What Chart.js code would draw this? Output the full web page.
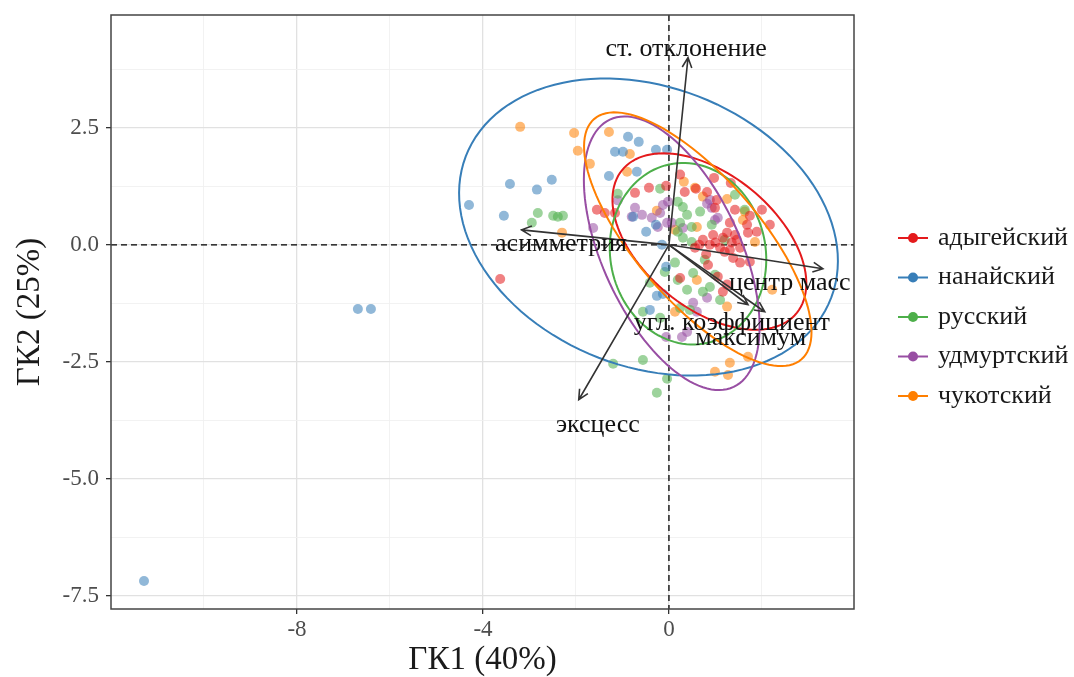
<!DOCTYPE html>
<html>
<head>
<meta charset="utf-8">
<script src="https://cdn.jsdelivr.net/npm/chart.js@4.4.1/dist/chart.umd.min.js"></script>
<style>
html, body { margin: 0; padding: 0; background: #fff; }
#wrap { width: 1074px; height: 677px; }
</style>
</head>
<body>
<div id="wrap"><canvas id="pcaCtx"></canvas></div>
<script>
// groups and colours (Set1)
const groups = ['адыгейский', 'нанайский', 'русский', 'удмуртский', 'чукотский'];
const groupColors = ['#E41A1C', '#377EB8', '#4DAF4A', '#984EA3', '#FF7F00'];

// individual scores, ГК1 / ГК2
const adygeiX = [-3.63, -1.55, -1.38, -1.16, -0.73, -0.43, -0.06, 0.24, 0.34, 0.58, 0.82, 0.97, 1.33, 1.03, 1.42, 1.74, 1.31, 1.68, 1.70, 1.42, 1.25, 0.99, 0.95, 1.46, 0.73, 0.88, 1.10, 1.31, 1.53, 0.56, 0.24, 0.84, 1.05, 1.25, 1.16, 1.53, 1.74, 1.38, 1.16, 1.89, 2.00, 2.17, 1.00, 1.20, 0.65, 1.35, 0.80];
const adygeiY = [-0.73, 0.75, 0.68, 0.68, 1.11, 1.22, 1.26, 1.50, 1.13, 1.20, 1.13, 1.43, 1.32, 0.96, 0.75, 0.62, 0.47, 0.43, 0.26, 0.21, 0.26, 0.79, 0.21, 0.11, 0.11, 0.00, -0.06, -0.11, -0.06, -0.06, -0.71, -0.43, -0.68, -0.85, -1.00, -0.38, -0.36, -0.28, 0.15, 0.28, 0.75, 0.43, 0.05, -0.15, 0.00, 0.05, -0.20];

const nanaiX = [-11.29, -6.69, -6.41, -4.30, -3.55, -3.42, -2.84, -2.52, -0.88, -0.65, -1.16, -0.99, -0.28, -0.04, -1.29, -0.69, -0.49, -0.77, -0.28, -0.15, -0.06, -0.26, -0.13, -0.41];
const nanaiY = [-7.18, -1.37, -1.37, 0.85, 0.62, 1.30, 1.18, 1.39, 2.31, 2.20, 1.99, 1.99, 2.03, 2.03, 1.47, 1.56, 0.28, 0.60, 0.43, 0.00, -0.47, -1.09, -1.05, -1.39];

const russianX = [-2.82, -2.95, -2.49, -2.39, -2.28, -1.10, -0.19, 0.19, 0.30, 0.39, 0.24, 0.49, 0.19, 0.13, -0.09, 0.39, 0.19, -0.41, -0.56, 0.24, 0.45, -0.56, -1.20, -0.04, -0.26, 0.49, 0.30, 0.73, 0.88, 0.52, 0.99, 0.67, 0.92, 1.20, 0.77, 1.10, -0.19, 1.63, 1.42];
const russianY = [0.68, 0.47, 0.62, 0.60, 0.62, 1.09, 1.20, 0.92, 0.81, 0.64, 0.47, 0.38, 0.28, -0.38, -0.58, -0.96, -0.75, -0.81, -1.43, -1.35, -1.39, -2.46, -2.54, -2.86, -3.16, 0.06, 0.15, -1.00, -0.90, -0.60, -0.64, 0.71, 0.43, 0.11, -0.32, -1.18, -1.56, 0.75, 1.07];

const udmurtX = [-0.73, -0.58, -0.80, -0.37, -0.13, -0.02, -0.19, -0.04, -0.24, 0.06, -1.63, 0.82, 0.92, 1.05, 0.88, 0.99, 0.30, -0.06, 0.28, 0.39, 0.82, 0.60, 0.52, -1.10];
const udmurtY = [0.79, 0.64, 0.60, 0.58, 0.85, 0.92, 0.68, 0.47, 0.38, 0.47, 0.36, 0.88, 0.79, 0.58, 0.96, 0.53, 0.36, -1.97, -1.97, -1.86, -1.13, -1.43, -1.24, 0.95];

const chukchiX = [-3.20, -2.04, -1.29, -1.96, -1.70, -0.84, -0.90, 0.32, 0.56, 1.25, 0.73, -0.26, 0.60, 0.13, 1.63, 1.59, 1.85, -2.30, 2.22, 1.25, 1.70, 0.99, 1.27, 1.31, 0.13, 0.60];
const chukchiY = [2.52, 2.39, 2.41, 2.01, 1.73, 1.94, 1.56, 1.35, 1.22, 0.98, 1.03, 0.73, 0.38, 0.32, 0.71, 0.53, 0.06, 0.26, -0.96, -1.32, -2.39, -2.71, -2.78, -2.52, -1.43, -0.75];

const groupX = [adygeiX, nanaiX, russianX, udmurtX, chukchiX];
const groupY = [adygeiY, nanaiY, russianY, udmurtY, chukchiY];

// confidence ellipses: centre x, centre y, semi-major, semi-minor, angle (deg)
const ellipseCX = [0.87, -0.44, 0.41, 0.06, 0.62];
const ellipseCY = [0.07, 0.38, -0.19, -0.18, 0.12];
const ellipseA = [2.42, 4.21, 1.95, 3.15, 3.40];
const ellipseB = [1.43, 2.99, 1.67, 1.48, 1.33];
const ellipseAngle = [-39, -21, -78, -65, -49];

// variable loadings (arrows) and where their labels sit
const varNames = ['ст. отклонение', 'асимметрия', 'центр масс', 'угл. коэффициент', 'максимум', 'эксцесс'];
const varX = [0.41, -3.17, 3.31, 1.70, 2.06, -1.94];
const varY = [4.00, 0.32, -0.51, -1.28, -1.43, -3.31];
const varLabelX = [0.37, -2.32, 2.60, 1.35, 1.76, -1.53];
const varLabelY = [4.17, 0.02, -0.81, -1.67, -1.99, -3.85];

// axis ticks (major + minor grid)
const xTicks = [-10, -8, -6, -4, -2, 0, 2];
const xLabelled = [-8, -4, 0];
const yTicks = [-7.5, -6.25, -5, -3.75, -2.5, -1.25, 0, 1.25, 2.5, 3.75];
const yLabelled = [-7.5, -5, -2.5, 0, 2.5];

const serif = "'Liberation Serif', 'Times New Roman', serif";

function hexToRgba(hex, a) {
    const n = parseInt(hex.slice(1), 16);
    return 'rgba(' + (n >> 16) + ',' + ((n >> 8) & 255) + ',' + (n & 255) + ',' + a + ')';
}

const biplotPlugin = {
    id: 'biplot',
    beforeDatasetsDraw(chart) {
        const { ctx, chartArea: area, scales: { x, y } } = chart;
        ctx.save();
        ctx.strokeStyle = '#000';
        ctx.lineWidth = 1.3;
        ctx.setLineDash([6, 4]);
        ctx.beginPath();
        ctx.moveTo(area.left, y.getPixelForValue(0));
        ctx.lineTo(area.right, y.getPixelForValue(0));
        ctx.moveTo(x.getPixelForValue(0), area.top);
        ctx.lineTo(x.getPixelForValue(0), area.bottom);
        ctx.stroke();
        ctx.restore();
    },
    afterDatasetsDraw(chart) {
        const { ctx, chartArea: area, scales: { x, y } } = chart;
        ctx.save();
        ctx.beginPath();
        ctx.rect(area.left, area.top, area.right - area.left, area.bottom - area.top);
        ctx.clip();

        // ellipses
        ctx.lineWidth = 2;
        groups.forEach((g, i) => {
            const th = ellipseAngle[i] * Math.PI / 180;
            ctx.strokeStyle = groupColors[i];
            ctx.beginPath();
            for (let k = 0; k <= 120; k++) {
                const t = k / 120 * 2 * Math.PI;
                const ex = ellipseCX[i] + ellipseA[i] * Math.cos(t) * Math.cos(th) - ellipseB[i] * Math.sin(t) * Math.sin(th);
                const ey = ellipseCY[i] + ellipseA[i] * Math.cos(t) * Math.sin(th) + ellipseB[i] * Math.sin(t) * Math.cos(th);
                const px = x.getPixelForValue(ex), py = y.getPixelForValue(ey);
                if (k === 0) ctx.moveTo(px, py); else ctx.lineTo(px, py);
            }
            ctx.stroke();
        });

        // arrows
        const ox = x.getPixelForValue(0), oy = y.getPixelForValue(0);
        ctx.strokeStyle = '#333';
        ctx.lineWidth = 1.6;
        varNames.forEach((v, i) => {
            const ex = x.getPixelForValue(varX[i]), ey = y.getPixelForValue(varY[i]);
            const ang = Math.atan2(ey - oy, ex - ox);
            ctx.beginPath();
            ctx.moveTo(ox, oy);
            ctx.lineTo(ex, ey);
            ctx.moveTo(ex - 11 * Math.cos(ang - 0.45), ey - 11 * Math.sin(ang - 0.45));
            ctx.lineTo(ex, ey);
            ctx.lineTo(ex - 11 * Math.cos(ang + 0.45), ey - 11 * Math.sin(ang + 0.45));
            ctx.stroke();
        });

        // arrow labels
        ctx.fillStyle = '#111';
        ctx.font = '26px ' + serif;
        ctx.textAlign = 'center';
        ctx.textBaseline = 'middle';
        varNames.forEach((v, i) => {
            ctx.fillText(v, x.getPixelForValue(varLabelX[i]), y.getPixelForValue(varLabelY[i]));
        });
        ctx.restore();

        // panel border
        ctx.save();
        ctx.strokeStyle = '#444';
        ctx.lineWidth = 1.5;
        ctx.strokeRect(area.left, area.top, area.right - area.left, area.bottom - area.top);
        ctx.restore();
    },
    afterDraw(chart) {
        // legend
        const { ctx } = chart;
        ctx.save();
        ctx.font = '26px ' + serif;
        ctx.textBaseline = 'middle';
        ctx.textAlign = 'left';
        groups.forEach((g, i) => {
            const cy = 238 + i * 39.5;
            ctx.strokeStyle = groupColors[i];
            ctx.lineWidth = 2;
            ctx.beginPath();
            ctx.moveTo(898, cy);
            ctx.lineTo(928, cy);
            ctx.stroke();
            ctx.fillStyle = groupColors[i];
            ctx.beginPath();
            ctx.arc(913, cy, 5, 0, 2 * Math.PI);
            ctx.fill();
            ctx.fillStyle = '#1a1a1a';
            ctx.fillText(g, 938, cy);
        });
        ctx.restore();
    }
};

function buildDatasets() {
    return groups.map((g, i) => ({
        label: g,
        data: groupX[i].map((v, k) => ({ x: v, y: groupY[i][k] })),
        backgroundColor: hexToRgba(groupColors[i], 0.55),
        borderWidth: 0,
        pointRadius: 5,
        pointHoverRadius: 5
    }));
}

function axisConfig(ticks, labelled, min, max, title, isX) {
    return {
        type: 'linear',
        min: min,
        max: max,
        afterBuildTicks: (scale) => { scale.ticks = ticks.map(v => ({ value: v })); },
        afterFit: (scale) => {
            if (isX) {
                scale.height = 68;
                scale.paddingLeft = 0;
                scale.paddingRight = 0;
            } else {
                scale.width = 111;
                scale.paddingTop = 0;
                scale.paddingBottom = 0;
            }
        },
        border: { display: false },
        grid: {
            color: (c) => labelled.includes(c.tick.value) ? '#e1e1e1' : '#f0f0f0',
            lineWidth: (c) => labelled.includes(c.tick.value) ? 1.3 : 0.9,
            tickColor: (c) => labelled.includes(c.tick.value) ? '#333' : 'rgba(0,0,0,0)',
            tickLength: 5,
            tickWidth: 1.3
        },
        ticks: {
            autoSkip: false,
            maxRotation: 0,
            padding: isX ? 2 : 7,
            color: '#4d4d4d',
            font: { family: serif, size: 23 },
            callback: function(value) {
                if (!labelled.includes(value)) return '';
                return isX ? String(value) : value.toFixed(1);
            }
        },
        title: {
            display: true,
            text: title,
            color: '#1a1a1a',
            font: { family: serif, size: 33, lineHeight: 1 },
            padding: isX ? { top: 0, bottom: 0 } : { top: 14, bottom: 0 }
        }
    };
}

new Chart(document.getElementById('pcaCtx'), {
    type: 'scatter',
    data: { datasets: buildDatasets() },
    options: {
        responsive: true,
        maintainAspectRatio: false,
        animation: false,
        layout: { padding: { top: 15, right: 220, left: 0, bottom: 0 } },
        plugins: { legend: { display: false }, tooltip: { enabled: false } },
        scales: {
            x: axisConfig(xTicks, xLabelled, -12, 3.98, 'ГК1 (40%)', true),
            y: axisConfig(yTicks, yLabelled, -7.78, 4.91, 'ГК2 (25%)', false)
        }
    },
    plugins: [biplotPlugin]
});
</script>
</body>
</html>
